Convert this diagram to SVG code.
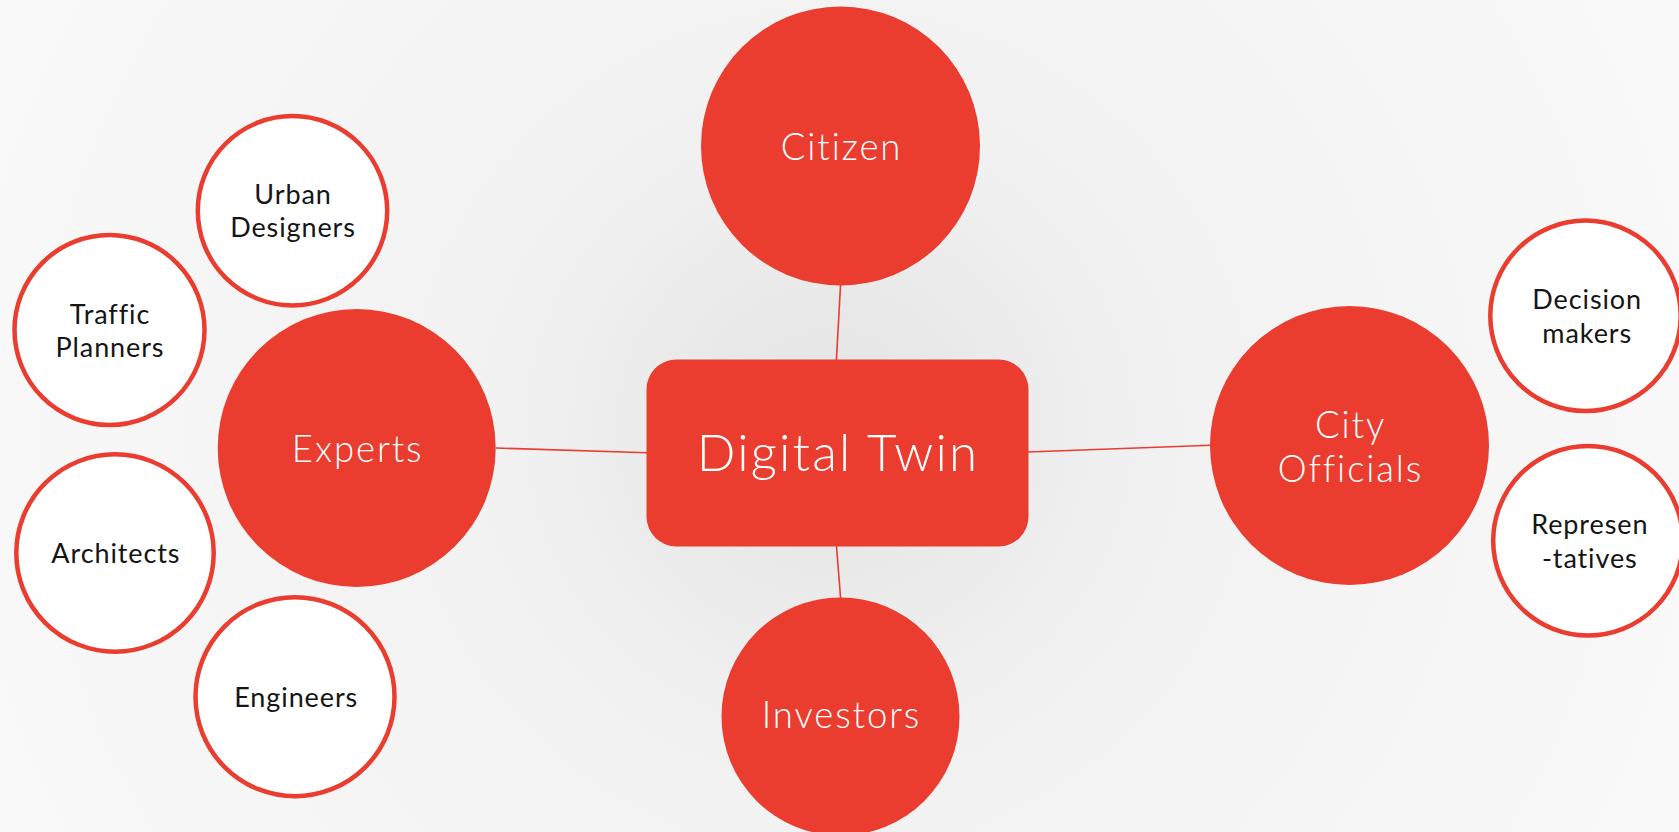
<svg xmlns="http://www.w3.org/2000/svg" width="1679" height="832" viewBox="0 0 1679 832">
<style>
.big{fill:#EA3C2F}
.small{fill:#ffffff;stroke:#EA3C2F;stroke-width:4.5}
.conn{stroke:#EA3C2F;stroke-width:1.6;fill:none}
.wt{fill:#ffffff;font-family:Lato,"Open Sans","Liberation Sans",sans-serif;font-weight:300;text-anchor:middle;letter-spacing:1.9px}
.bt{fill:#151515;font-family:Lato,"Open Sans","Liberation Sans",sans-serif;font-weight:400;font-size:27px;text-anchor:middle;letter-spacing:0.9px}
</style>
<defs>
<radialGradient id="bg" cx="830" cy="430" r="900" gradientUnits="userSpaceOnUse">
<stop offset="0" stop-color="#e3e3e3"/>
<stop offset="0.35" stop-color="#f1f1f1"/>
<stop offset="1" stop-color="#f9f9f9"/>
</radialGradient>
</defs>
<rect x="0" y="0" width="1679" height="832" fill="url(#bg)"/>
<g id="connectors">
<line class="conn" x1="840.6" y1="284" x2="836.4" y2="360"/>
<line class="conn" x1="496" y1="448" x2="647" y2="452.7"/>
<line class="conn" x1="1028" y1="452" x2="1211" y2="445.3"/>
<line class="conn" x1="836.4" y1="545" x2="840.6" y2="598"/>
</g>
<g id="digital-twin">
<rect class="big" x="646.5" y="359.5" width="382" height="187" rx="30" ry="30"/>
<text class="wt" x="838" y="471" font-size="51" style="letter-spacing:2.2px">Digital Twin</text>
</g>
<g id="citizen">
<circle class="big" cx="840.5" cy="146" r="139.5"/>
<text class="wt" x="841.5" y="160" font-size="36.5">Citizen</text>
</g>
<g id="experts">
<circle class="big" cx="356.7" cy="448" r="139"/>
<text class="wt" x="357.7" y="461.7" font-size="36.5">Experts</text>
</g>
<g id="city-officials">
<circle class="big" cx="1349.5" cy="445.5" r="139.5"/>
<text class="wt" x="1350.5" y="437.5" font-size="36.5">City</text>
<text class="wt" x="1350.5" y="481.5" font-size="36.5">Officials</text>
</g>
<g id="investors">
<circle class="big" cx="840.5" cy="716.5" r="119"/>
<text class="wt" x="841.5" y="727.7" font-size="36.5">Investors</text>
</g>
<g id="urban-designers">
<circle class="small" cx="292.5" cy="210.7" r="94.7"/>
<text class="bt" x="293" y="204">Urban</text>
<text class="bt" x="293" y="237.3">Designers</text>
</g>
<g id="traffic-planners">
<circle class="small" cx="109.5" cy="330" r="95"/>
<text class="bt" x="110" y="324">Traffic</text>
<text class="bt" x="110" y="356.7">Planners</text>
</g>
<g id="architects">
<circle class="small" cx="115" cy="553" r="98.7"/>
<text class="bt" x="115.9" y="562.7">Architects</text>
</g>
<g id="engineers">
<circle class="small" cx="295" cy="696.7" r="99.5"/>
<text class="bt" x="296.2" y="707">Engineers</text>
</g>
<g id="decision-makers">
<circle class="small" cx="1585.5" cy="315.8" r="95.2"/>
<text class="bt" x="1587.2" y="309.3">Decision</text>
<text class="bt" x="1587.2" y="342.7">makers</text>
</g>
<g id="representatives">
<circle class="small" cx="1588" cy="540.7" r="94.8"/>
<text class="bt" x="1589.8" y="534.3">Represen</text>
<text class="bt" x="1589.8" y="567.7">-tatives</text>
</g>
</svg>
